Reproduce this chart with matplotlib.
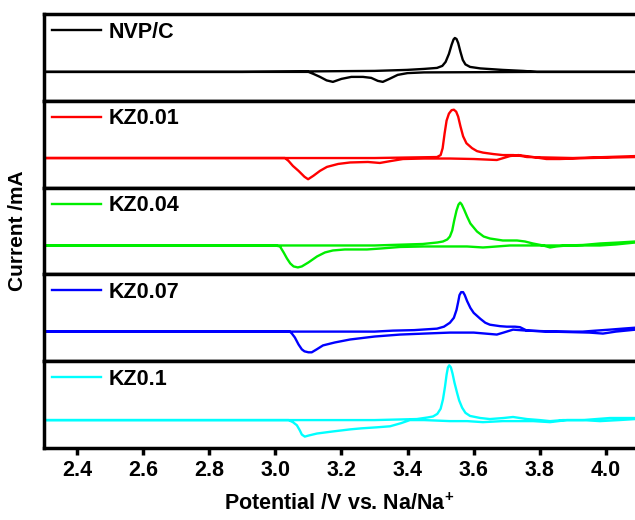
import matplotlib
matplotlib.use("Agg")
import matplotlib.pyplot as plt
from matplotlib.lines import Line2D

plt.rcParams['font.family'] = ['Liberation Sans', 'DejaVu Sans']
plt.rcParams['font.weight'] = 'bold'
plt.rcParams['mathtext.fontset'] = 'custom'
plt.rcParams['mathtext.bf'] = 'Liberation Sans:bold'
plt.rcParams['mathtext.rm'] = 'Liberation Sans:bold'

labels = ['NVP/C', 'KZ0.01', 'KZ0.04', 'KZ0.07', 'KZ0.1']
colors = ['#000000', '#ff0000', '#00ee00', '#0000ff', '#00ffff']

# anodic sweep (2.3 -> 4.09 V)
ano_x = [
    [2.3, 2.9, 3.1, 3.3, 3.398, 3.45, 3.489, 3.505, 3.515, 3.525, 3.533, 3.539, 3.543, 3.548, 3.553,
     3.56, 3.567, 3.575, 3.589, 3.62, 3.688, 3.75, 3.791, 4.09],
    [2.3, 3.3, 3.489, 3.50, 3.506, 3.512, 3.518, 3.525, 3.533, 3.54, 3.547, 3.553, 3.56, 3.568, 3.578,
     3.595, 3.61, 3.628, 3.66, 3.688, 3.72, 3.745, 3.761, 3.9, 4.0, 4.09],
    [2.3, 3.3, 3.446, 3.49, 3.507, 3.52, 3.528, 3.535, 3.541, 3.548, 3.554, 3.559, 3.564, 3.571, 3.58,
     3.59, 3.61, 3.63, 3.649, 3.688, 3.731, 3.755, 3.779, 3.81, 3.831, 3.85, 3.882, 3.93, 3.982, 4.04, 4.09],
    [2.3, 3.3, 3.356, 3.42, 3.489, 3.51, 3.528, 3.54, 3.548, 3.553, 3.557, 3.562, 3.568, 3.573, 3.58,
     3.59, 3.60, 3.62, 3.635, 3.649, 3.68, 3.70, 3.725, 3.74, 3.761, 3.85, 3.93, 3.97, 4.012, 4.05, 4.09],
    [2.3, 3.3, 3.428, 3.46, 3.477, 3.49, 3.50, 3.507, 3.513, 3.518, 3.522, 3.526, 3.531, 3.536, 3.542,
     3.55, 3.556, 3.565, 3.575, 3.589, 3.62, 3.649, 3.69, 3.719, 3.74, 3.761, 3.80, 3.831, 3.87, 3.93, 4.012, 4.09],
]
ano_y = [
    [0, 0.0, 0.005, 0.01, 0.02, 0.03, 0.04, 0.06, 0.10, 0.18, 0.27, 0.325, 0.34, 0.33, 0.29,
     0.20, 0.12, 0.075, 0.05, 0.035, 0.02, 0.01, 0.0, 0.0],
    [0, 0.0, 0.01, 0.03, 0.10, 0.25, 0.38, 0.45, 0.485, 0.49, 0.47, 0.42, 0.32, 0.22, 0.15,
     0.10, 0.07, 0.055, 0.04, 0.03, 0.03, 0.02, 0.01, 0.0, 0.01, 0.02],
    [0, 0.0, 0.015, 0.03, 0.04, 0.06, 0.09, 0.15, 0.25, 0.35, 0.41, 0.43, 0.41, 0.36, 0.29,
     0.22, 0.14, 0.09, 0.07, 0.05, 0.05, 0.04, 0.02, 0.0, -0.02, -0.01, 0.0, 0.005, 0.02, 0.03, 0.04],
    [0, 0.0, 0.01, 0.015, 0.03, 0.05, 0.09, 0.14, 0.22, 0.30, 0.37, 0.40, 0.40, 0.37, 0.31,
     0.24, 0.19, 0.13, 0.09, 0.07, 0.055, 0.05, 0.05, 0.045, 0.01, 0.0, 0.0, 0.01, 0.02, 0.03, 0.04],
    [0, 0.0, 0.01, 0.025, 0.035, 0.06, 0.11, 0.20, 0.32, 0.44, 0.51, 0.53, 0.51, 0.45, 0.36,
     0.26, 0.19, 0.12, 0.07, 0.04, 0.02, 0.01, 0.02, 0.03, 0.02, 0.01, 0.0, -0.01, 0.0, 0.0, 0.02, 0.02],
]
# cathodic sweep (4.09 -> 2.3 V)
cat_x = [
    [4.09, 3.791, 3.6, 3.45, 3.40, 3.37, 3.345, 3.325, 3.31, 3.29, 3.265, 3.23, 3.2, 3.174, 3.155,
     3.135, 3.115, 3.1, 2.3],
    [4.09, 3.95, 3.86, 3.82, 3.78, 3.735, 3.71, 3.67, 3.6, 3.528, 3.45, 3.386, 3.35, 3.316, 3.28,
     3.226, 3.19, 3.156, 3.135, 3.115, 3.099, 3.088, 3.07, 3.053, 3.04, 3.029, 2.3],
    [4.09, 4.03, 3.982, 3.9, 3.831, 3.71, 3.65, 3.628, 3.58, 3.528, 3.45, 3.377, 3.32, 3.277, 3.21,
     3.174, 3.15, 3.126, 3.10, 3.08, 3.068, 3.055, 3.045, 3.035, 3.025, 3.014, 3.0, 2.3],
    [4.09, 4.03, 3.991, 3.95, 3.831, 3.76, 3.719, 3.69, 3.67, 3.6, 3.528, 3.45, 3.377, 3.3, 3.226,
     3.18, 3.144, 3.125, 3.11, 3.1, 3.088, 3.08, 3.07, 3.059, 3.05, 3.044, 2.3],
    [4.09, 4.04, 3.982, 3.93, 3.882, 3.831, 3.78, 3.688, 3.628, 3.58, 3.528, 3.45, 3.407, 3.38, 3.347,
     3.307, 3.26, 3.226, 3.174, 3.126, 3.1, 3.089, 3.08, 3.074, 3.065, 3.053, 3.04, 2.3],
]
cat_y = [
    [0, 0, -0.003, -0.005, -0.012, -0.03, -0.07, -0.10, -0.09, -0.06, -0.05, -0.05, -0.07, -0.10, -0.085,
     -0.05, -0.02, 0, 0],
    [0.01, 0.0, -0.01, -0.01, 0.01, 0.03, 0.02, -0.02, -0.01, -0.005, -0.005, -0.01, -0.03, -0.05, -0.04,
     -0.045, -0.06, -0.09, -0.13, -0.18, -0.215, -0.19, -0.13, -0.08, -0.03, 0.0, 0],
    [0.03, 0.01, 0.0, 0.0, 0.0, 0.0, -0.015, -0.02, -0.01, -0.01, -0.01, -0.015, -0.03, -0.04, -0.04,
     -0.05, -0.07, -0.11, -0.17, -0.21, -0.22, -0.21, -0.18, -0.13, -0.07, -0.01, 0.0, 0],
    [0.02, 0.0, -0.02, -0.01, 0.0, 0.01, 0.02, -0.01, -0.03, -0.01, -0.01, -0.02, -0.03, -0.05, -0.08,
     -0.11, -0.14, -0.18, -0.21, -0.21, -0.2, -0.18, -0.13, -0.06, -0.02, 0.0, 0],
    [0.01, 0.0, -0.01, 0.0, 0.0, -0.02, -0.01, -0.01, -0.02, -0.01, -0.01, 0.0, 0.0, -0.03, -0.06,
     -0.07, -0.08, -0.09, -0.11, -0.13, -0.15, -0.16, -0.14, -0.1, -0.05, -0.02, 0.0, 0],
]
ylims = [(-0.29, 0.58), (-0.30, 0.58), (-0.29, 0.58), (-0.30, 0.58), (-0.27, 0.57)]
xticks = [2.4, 2.6, 2.8, 3.0, 3.2, 3.4, 3.6, 3.8, 4.0]

left, top, bottom = 0.0693, 0.973, 0.1385
fig, axes = plt.subplots(5, 1, sharex=True, figsize=(6.35, 5.2), dpi=100,
                         gridspec_kw=dict(hspace=0, left=left, right=1.0,
                                          top=top, bottom=bottom))
for i, ax in enumerate(axes):
    ax.plot(ano_x[i] + cat_x[i], ano_y[i] + cat_y[i], color=colors[i], lw=1.7,
            solid_joinstyle='round', label=labels[i])
    ax.set_ylim(*ylims[i])
    ax.set_yticks([])
    ax.spines['right'].set_visible(False)
    ax.spines['left'].set_visible(False)
    for s in ['top', 'bottom']:
        ax.spines[s].set_linewidth(2.5)
    ax.tick_params(axis='x', length=0)
    ax.legend(loc='upper left', frameon=False, fontsize=15.5, handlelength=2.3,
              handletextpad=0.35, borderaxespad=0.0, borderpad=0.35)

# one continuous left border for the whole stack
fig.add_artist(Line2D([left, left], [bottom, top], transform=fig.transFigure,
                      color='black', lw=2.5, solid_capstyle='projecting'))

ax = axes[-1]
ax.set_xlim(2.3, 4.088)
ax.set_xticks(xticks)
ax.set_xticklabels([f'{t:.1f}' for t in xticks])
ax.tick_params(axis='x', length=5, width=2.5, direction='out', labelsize=15.5, pad=4)
ax.set_xlabel('Potential /V vs. Na/Na$^\\mathbf{+}$', fontsize=15.5, fontweight='bold', labelpad=9)
fig.text(0.027, 0.556, 'Current /mA', rotation=90, ha='center', va='center',
         fontsize=15, fontweight='bold')

fig.savefig('out.png', dpi=100)
